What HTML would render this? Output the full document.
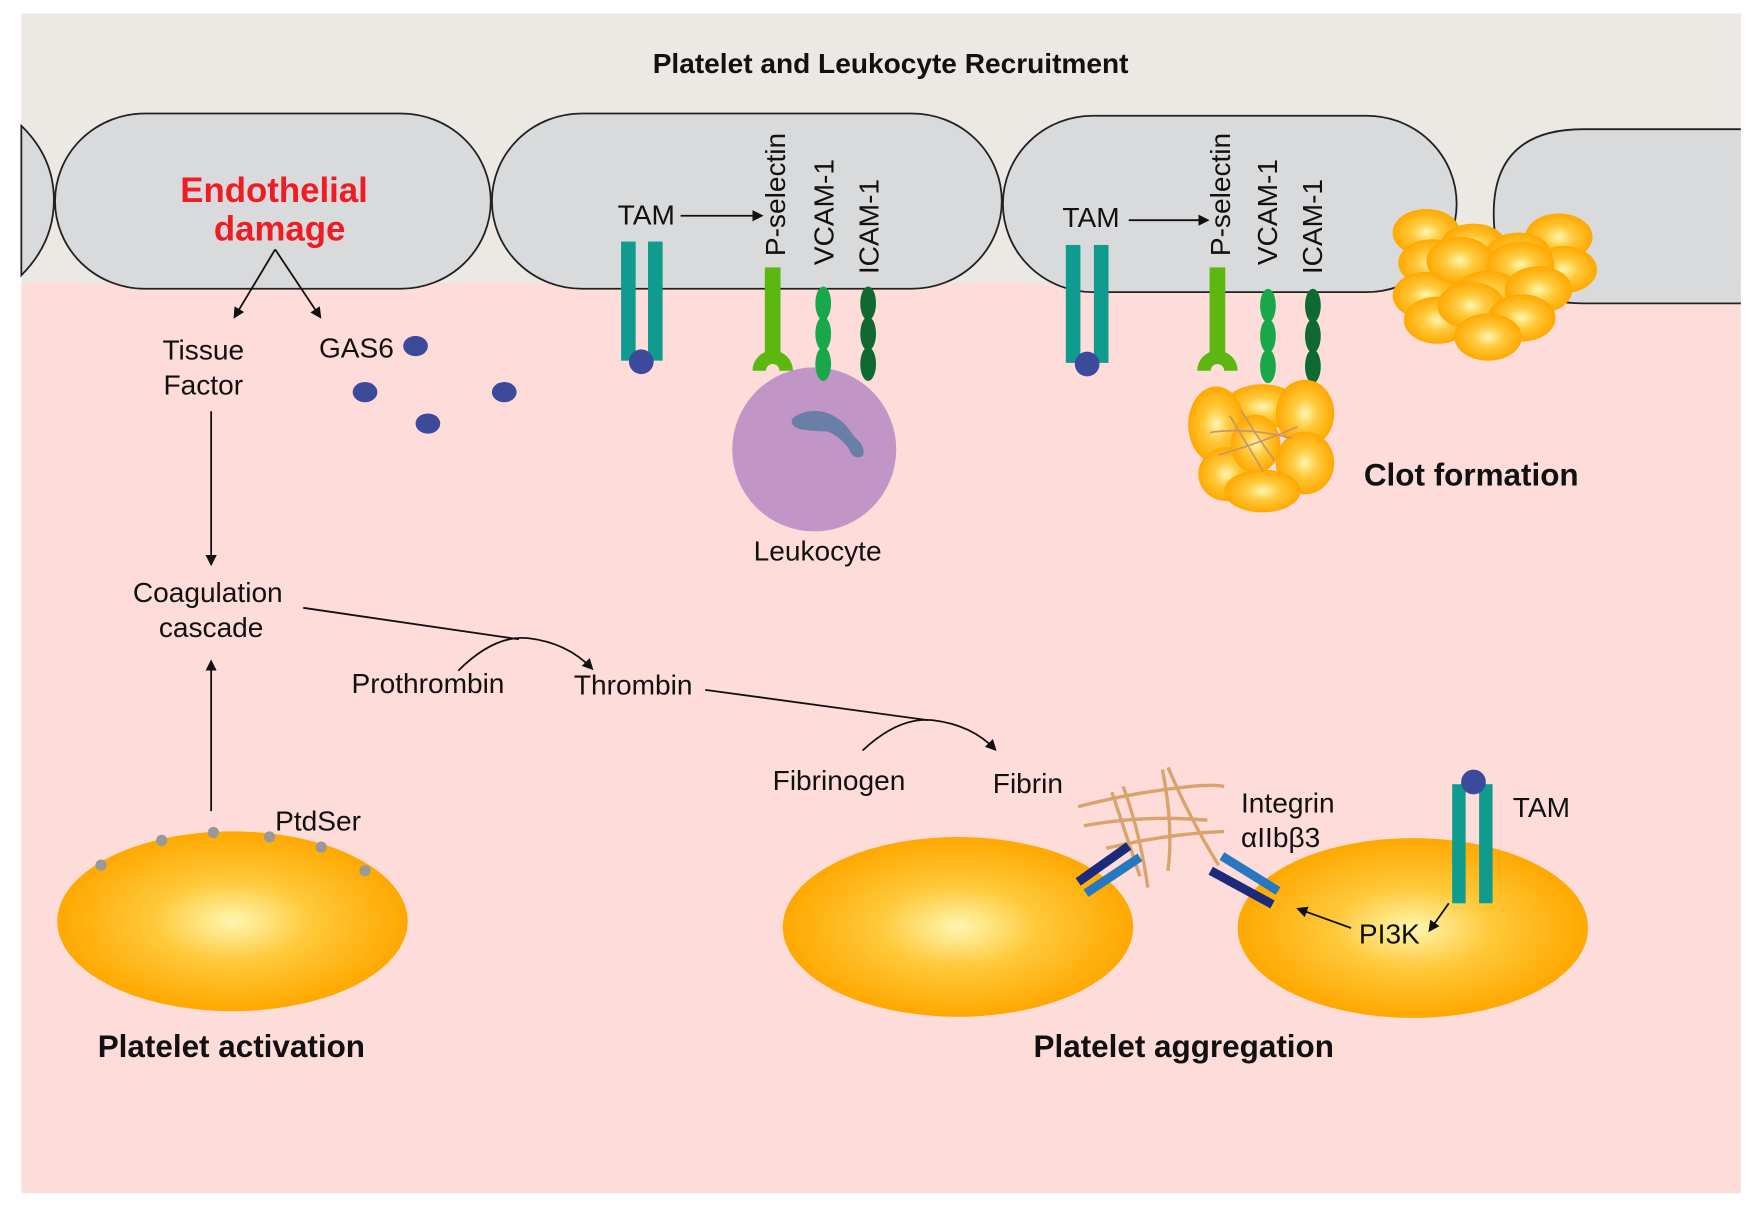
<!DOCTYPE html>
<html><head><meta charset="utf-8"><style>
html,body{margin:0;padding:0;background:#fff;}
svg{display:block;}
text{font-family:"Liberation Sans",sans-serif;fill:#111;}
</style></head><body>
<svg width="1761" height="1219" viewBox="0 0 1568 1085" preserveAspectRatio="none" xmlns="http://www.w3.org/2000/svg">
<defs>
<radialGradient id="pl" cx="50%" cy="50%" r="50%">
<stop offset="0" stop-color="#fff6b0"/><stop offset="0.45" stop-color="#ffc93a"/><stop offset="1" stop-color="#ffa800"/>
</radialGradient>
<marker id="ah" markerWidth="10" markerHeight="10" refX="8" refY="5" orient="auto" markerUnits="userSpaceOnUse">
<path d="M0,0 L10,5 L0,10 Z" fill="#111"/></marker>
</defs>
<rect x="0" y="0" width="1568" height="1085" fill="#fff"/>
<rect x="19" y="12" width="1531" height="1050" fill="#fddcd9"/>
<rect x="19" y="12" width="1531" height="240" fill="#ece9e5"/>
<g fill="#d9dadc" stroke="#222" stroke-width="1.6">
<path d="M19,112 Q48,140 48,178 Q48,216 19,245 Z"/>
<rect x="49" y="101" width="388" height="156" rx="80"/>
<rect x="438" y="101" width="454" height="156" rx="80"/>
<rect x="893" y="103" width="404" height="157" rx="80"/>
<path d="M1550,115 L1410,115 Q1330,115 1330,190 Q1330,270 1410,270 L1550,270"/>
</g>
<text x="793" y="65" text-anchor="middle" font-size="25" font-weight="bold">Platelet and Leukocyte Recruitment</text>
<text x="244" y="180" text-anchor="middle" font-size="31" font-weight="bold" style="fill:#ee1c24">Endothelial</text>
<text x="249" y="214" text-anchor="middle" font-size="31" font-weight="bold" style="fill:#ee1c24">damage</text>
<g stroke="#111" stroke-width="1.6" fill="none">
<line x1="245" y1="222" x2="209" y2="282" marker-end="url(#ah)"/>
<line x1="245" y1="222" x2="285" y2="282" marker-end="url(#ah)"/>
<line x1="188" y1="366" x2="188" y2="502" marker-end="url(#ah)"/>
<line x1="188" y1="722" x2="188" y2="589" marker-end="url(#ah)"/>
<line x1="270" y1="541" x2="462" y2="569"/>
<path d="M408,597 Q440,565 470,568 Q505,572 527,595" marker-end="url(#ah)"/>
<line x1="628" y1="614" x2="826" y2="641"/>
<path d="M768,668 Q800,638 830,641 Q865,645 886,667" marker-end="url(#ah)"/>
<line x1="606" y1="192" x2="678" y2="192" marker-end="url(#ah)"/>
<line x1="1005" y1="196" x2="1075" y2="196" marker-end="url(#ah)"/>
</g>
<g font-size="25">
<text x="181" y="320" text-anchor="middle">Tissue</text>
<text x="181" y="351" text-anchor="middle">Factor</text>
<text x="284" y="318">GAS6</text>
<text x="185" y="536" text-anchor="middle">Coagulation</text>
<text x="188" y="567" text-anchor="middle">cascade</text>
<text x="313" y="617">Prothrombin</text>
<text x="511" y="618">Thrombin</text>
<text x="688" y="703">Fibrinogen</text>
<text x="884" y="706">Fibrin</text>
<text x="245" y="739">PtdSer</text>
<text x="550" y="200">TAM</text>
<text x="946" y="202">TAM</text>
<text x="1105" y="723">Integrin</text>
<text x="1105" y="754">αIIbβ3</text>
<text x="1347" y="727">TAM</text>
<text x="728" y="499" text-anchor="middle">Leukocyte</text>
</g>
<g font-size="25">
<text transform="translate(699,228) rotate(-90)">P-selectin</text>
<text transform="translate(742,236) rotate(-90)">VCAM-1</text>
<text transform="translate(782,244) rotate(-90)">ICAM-1</text>
<text transform="translate(1095,228) rotate(-90)">P-selectin</text>
<text transform="translate(1137,236) rotate(-90)">VCAM-1</text>
<text transform="translate(1177,244) rotate(-90)">ICAM-1</text>
</g>
<g fill="#3b4a9b">
<ellipse cx="370" cy="308" rx="11" ry="9"/><ellipse cx="325" cy="349" rx="11" ry="9"/>
<ellipse cx="381" cy="377" rx="11" ry="9"/><ellipse cx="449" cy="349" rx="11" ry="9"/>
</g>
<!-- leukocyte -->
<circle cx="725" cy="400" r="73" fill="#c196c6"/>
<path d="M706,372 Q720,362 738,368 Q752,374 760,388 Q772,398 768,406 Q760,410 756,400 Q748,388 736,384 Q724,384 712,382 Q702,378 706,372 Z" fill="#6a7fa8"/>
<!-- platelets -->
<ellipse cx="207" cy="820" rx="156" ry="80" fill="url(#pl)"/>
<ellipse cx="853" cy="825" rx="156" ry="80" fill="url(#pl)"/>
<ellipse cx="1258" cy="826" rx="156" ry="80" fill="url(#pl)"/>
<g fill="#999"><circle cx="90" cy="770" r="5"/><circle cx="144" cy="748" r="5"/><circle cx="190" cy="741" r="5"/><circle cx="240" cy="745" r="5"/><circle cx="286" cy="754" r="5"/><circle cx="325" cy="775" r="5"/></g>
<!-- TAM receptors -->
<g fill="#0f9c8e">
<rect x="553" y="215" width="13" height="106"/><rect x="577" y="215" width="13" height="106"/>
<rect x="949" y="218" width="13" height="105"/><rect x="974" y="218" width="13" height="105"/>
<rect x="1293" y="698" width="12" height="106"/><rect x="1317" y="698" width="12" height="106"/>
</g>
<g fill="#3b4a9b"><circle cx="571" cy="322" r="11"/><circle cx="968" cy="324" r="11"/><circle cx="1312" cy="696" r="11"/></g>
<text x="1210" y="840" font-size="25">PI3K</text>
<g stroke="#111" stroke-width="1.6" fill="none">
<line x1="1290" y1="804" x2="1273" y2="828" marker-end="url(#ah)"/>
<line x1="1203" y1="826" x2="1156" y2="809" marker-end="url(#ah)"/>
</g>
<!-- P-selectin -->
<g fill="#5cb811">
<rect x="681" y="238" width="14" height="80"/>
<path d="M670,330 a18,18 0 1 1 36,0 h-12 a6,6 0 1 0 -12,0 z"/>
<rect x="1077" y="238" width="14" height="80"/>
<path d="M1066,330 a18,18 0 1 1 36,0 h-12 a6,6 0 1 0 -12,0 z"/>
</g>
<g fill="#18a84a">
<ellipse cx="733" cy="270" rx="7" ry="15"/><ellipse cx="733" cy="297" rx="7" ry="15"/><ellipse cx="733" cy="324" rx="7" ry="15"/>
<ellipse cx="1129" cy="272" rx="7" ry="15"/><ellipse cx="1129" cy="299" rx="7" ry="15"/><ellipse cx="1129" cy="326" rx="7" ry="15"/>
</g>
<g fill="#0e6a30">
<ellipse cx="773" cy="270" rx="7" ry="15"/><ellipse cx="773" cy="297" rx="7" ry="15"/><ellipse cx="773" cy="324" rx="7" ry="15"/>
<ellipse cx="1169" cy="272" rx="7" ry="15"/><ellipse cx="1169" cy="299" rx="7" ry="15"/><ellipse cx="1169" cy="326" rx="7" ry="15"/>
</g>
<!-- fibrin mesh -->
<g stroke="#d9a46c" stroke-width="3" fill="none">
<path d="M960,718 Q1010,705 1060,700 Q1080,698 1090,700"/>
<path d="M965,735 Q1020,725 1075,730"/>
<path d="M985,755 Q1040,742 1090,740"/>
<path d="M1000,700 Q1015,740 1022,790"/>
<path d="M1035,685 Q1045,735 1040,775"/>
<path d="M1040,683 Q1060,730 1085,770"/>
<path d="M990,705 Q1005,750 1015,780"/>
</g>
<g>
<line x1="960" y1="785" x2="1005" y2="753" stroke="#1b2a7a" stroke-width="8"/>
<line x1="967" y1="795" x2="1015" y2="763" stroke="#2878c0" stroke-width="8"/>
<line x1="1078" y1="775" x2="1133" y2="805" stroke="#1b2a7a" stroke-width="8"/>
<line x1="1088" y1="762" x2="1138" y2="793" stroke="#2878c0" stroke-width="8"/>
</g>
<!-- clot -->
<g fill="url(#pl)">
<ellipse cx="1124" cy="362" rx="34" ry="20"/>
<ellipse cx="1083" cy="378" rx="25" ry="34"/>
<ellipse cx="1162" cy="368" rx="26" ry="30"/>
<ellipse cx="1092" cy="422" rx="25" ry="24"/>
<ellipse cx="1162" cy="412" rx="26" ry="28"/>
<ellipse cx="1124" cy="437" rx="34" ry="19"/>
<ellipse cx="1118" cy="395" rx="22" ry="26"/>
</g>
<g stroke="#c8946a" stroke-width="1.5" fill="none">
<path d="M1077,385 Q1110,380 1150,390"/><path d="M1095,370 Q1110,395 1125,420"/><path d="M1105,365 Q1120,390 1135,410"/><path d="M1085,405 Q1120,395 1155,380"/>
</g>
<text x="1310" y="432" text-anchor="middle" font-size="28" font-weight="bold">Clot formation</text>
<!-- cluster -->
<g fill="url(#pl)">
<ellipse cx="1270" cy="207" rx="30" ry="21"/><ellipse cx="1388" cy="211" rx="30" ry="21"/>
<ellipse cx="1275" cy="234" rx="30" ry="21"/><ellipse cx="1392" cy="240" rx="30" ry="21"/>
<ellipse cx="1270" cy="263" rx="30" ry="21"/><ellipse cx="1312" cy="220" rx="30" ry="21"/>
<ellipse cx="1352" cy="228" rx="30" ry="21"/><ellipse cx="1300" cy="232" rx="30" ry="21"/>
<ellipse cx="1354" cy="236" rx="30" ry="21"/><ellipse cx="1280" cy="285" rx="30" ry="21"/>
<ellipse cx="1325" cy="262" rx="30" ry="21"/><ellipse cx="1370" cy="258" rx="30" ry="21"/>
<ellipse cx="1310" cy="272" rx="30" ry="21"/><ellipse cx="1355" cy="283" rx="30" ry="21"/>
<ellipse cx="1325" cy="300" rx="30" ry="21"/>
</g>
<text x="206" y="941" text-anchor="middle" font-size="28" font-weight="bold">Platelet activation</text>
<text x="1054" y="941" text-anchor="middle" font-size="28" font-weight="bold">Platelet aggregation</text>
</svg>
</body></html>
